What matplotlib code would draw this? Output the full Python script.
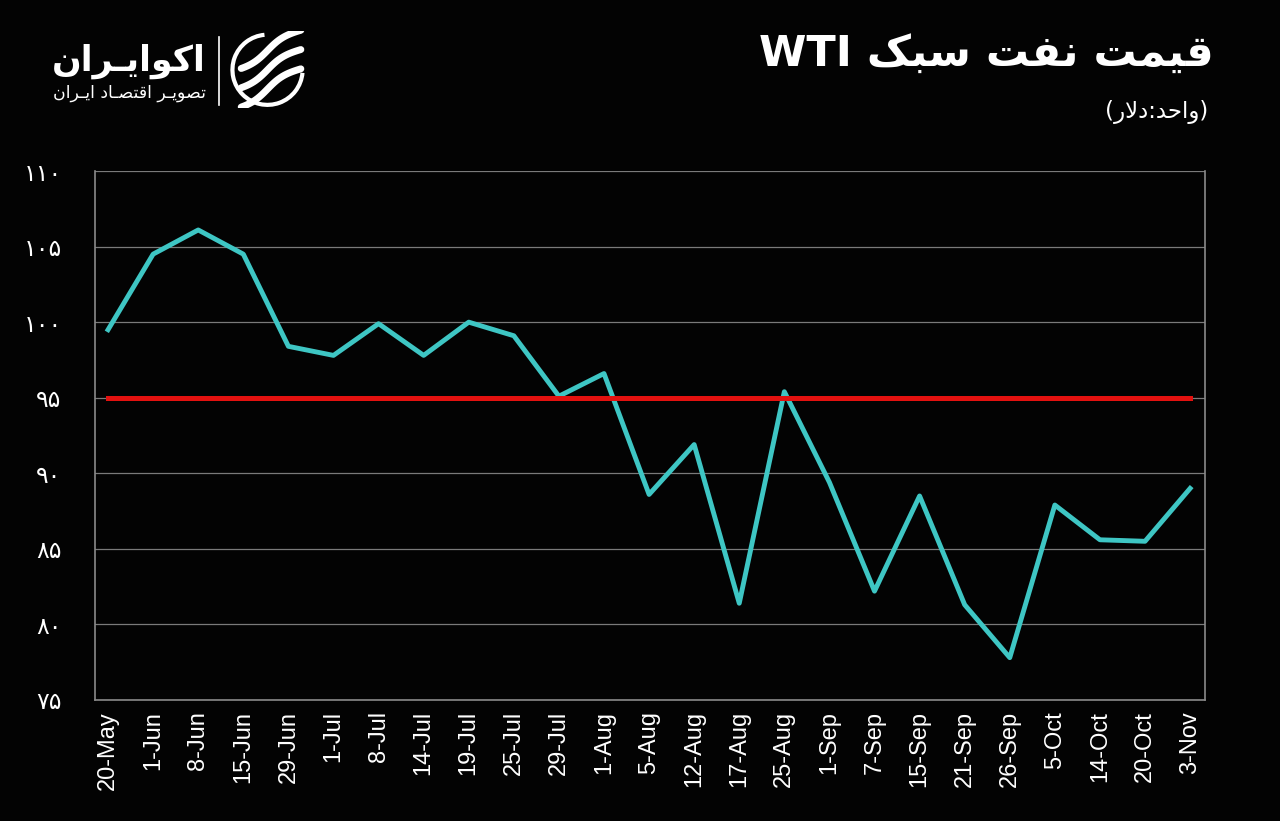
import matplotlib
matplotlib.use("Agg")
import matplotlib.pyplot as plt
from matplotlib.patches import Arc
import numpy as np

# data
dates = ["20-May", "1-Jun", "8-Jun", "15-Jun", "29-Jun", "1-Jul", "8-Jul", "14-Jul",
         "19-Jul", "25-Jul", "29-Jul", "1-Aug", "5-Aug", "12-Aug", "17-Aug", "25-Aug",
         "1-Sep", "7-Sep", "15-Sep", "21-Sep", "26-Sep", "5-Oct", "14-Oct", "20-Oct", "3-Nov"]
prices = [99.5, 104.5, 106.1, 104.5, 98.4, 97.8, 99.9, 97.8, 100.0, 99.1, 95.1, 96.6,
          88.6, 91.9, 81.4, 95.4, 89.4, 82.2, 88.5, 81.3, 77.8, 87.9, 85.6, 85.5, 89.0]
ref_level = 95
y_ticks = [75, 80, 85, 90, 95, 100, 105, 110]

# Persian shaping (presentation forms, visual order)
DUAL = {
    "ق": "\ufed5\ufed6\ufed7\ufed8", "ی": "\ufbfc\ufbfd\ufbfe\ufbff",
    "م": "\ufee1\ufee2\ufee3\ufee4", "ت": "\ufe95\ufe96\ufe97\ufe98",
    "ن": "\ufee5\ufee6\ufee7\ufee8", "ف": "\ufed1\ufed2\ufed3\ufed4",
    "س": "\ufeb1\ufeb2\ufeb3\ufeb4", "ب": "\ufe8f\ufe90\ufe91\ufe92",
    "ک": "\ufb8e\ufb8f\ufb90\ufb91", "ح": "\ufea1\ufea2\ufea3\ufea4",
    "ل": "\ufedd\ufede\ufedf\ufee0", "ص": "\ufeb9\ufeba\ufebb\ufebc",
    "ـ": "ــــ",
}
RIGHT = {"و": "\ufeed\ufeee", "ا": "\ufe8d\ufe8e", "د": "\ufea9\ufeaa", "ر": "\ufead\ufeae"}
MIRROR = {"(": ")", ")": "("}


def rtl(text):
    out = []
    i = 0
    n = len(text)
    while i < n:
        c = text[i]
        joins_prev = i > 0 and text[i - 1] in DUAL
        if c == "ل" and i + 1 < n and text[i + 1] == "ا":
            out.append("\ufefc" if joins_prev else "\ufefb")
            i += 2
            continue
        nxt = text[i + 1] if i + 1 < n else ""
        joins_next = c in DUAL and (nxt in DUAL or nxt in RIGHT)
        if c in DUAL:
            idx = 3 if (joins_prev and joins_next) else 1 if joins_prev else 2 if joins_next else 0
            out.append(DUAL[c][idx])
        elif c in RIGHT:
            out.append(RIGHT[c][1] if joins_prev else RIGHT[c][0])
        else:
            out.append(MIRROR.get(c, c))
        i += 1
    return "".join(reversed(out))


def fa_digits(v):
    return str(v).translate(str.maketrans("0123456789", "۰۱۲۳۴۵۶۷۸۹"))


bg = "#030303"
fig = plt.figure(figsize=(12.8, 8.21), dpi=100, facecolor=bg)
ax = fig.add_axes([0.0742, 0.1474, 0.8672, 0.6443])
ax.set_facecolor(bg)

x = np.arange(len(dates))
ax.plot(x, prices, color="#3ec6c4", lw=3.5, zorder=3)
ax.plot([x[0], x[-1]], [ref_level, ref_level], color="#e3110f", lw=3.6, zorder=4)

ax.set_ylim(75, 110)
ax.set_xlim(-0.29, len(dates) - 1 + 0.33)
ax.set_yticks(y_ticks)
ax.set_yticklabels([fa_digits(v) for v in y_ticks], family="DejaVu Sans",
                   fontsize=17, color="white")
ax.set_xticks(x)
ax.set_xticklabels(dates, rotation=90, family="Liberation Sans", fontsize=17,
                   color="white")
ax.tick_params(axis="y", length=0, pad=24)
ax.tick_params(axis="x", length=0, pad=8)
ax.grid(axis="y", color="#7a7a7a", lw=0.9)
ax.set_axisbelow(True)
for side in ["left", "right", "bottom"]:
    ax.spines[side].set_color("#8a8a8a")
    ax.spines[side].set_linewidth(1.2)
ax.spines["top"].set_visible(False)

# title block
fig.text(0.948, 0.935, "WTI " + rtl("قیمت نفت سبک"), ha="right", va="center",
         family="DejaVu Sans", fontweight="bold", fontsize=31, color="white")
fig.text(0.944, 0.863, rtl("(واحد:دلار)"), ha="right", va="center",
         family="DejaVu Sans", fontsize=16.5, color="white")

# logo
fig.text(0.161, 0.925, rtl("اکوایـران"), ha="right", va="center",
         family="DejaVu Sans", fontweight="bold", fontsize=25, color="white")
fig.text(0.161, 0.887, rtl("تصویـر اقتصـاد ایـران"), ha="right", va="center",
         family="DejaVu Sans", fontsize=12.5, color="white")
fig.add_artist(plt.Line2D([0.171, 0.171], [0.872, 0.955], color="white", lw=1.2))

icon = fig.add_axes([0.178, 0.868, 0.062, 0.094])
icon.set_xlim(-1.1, 1.1)
icon.set_ylim(-1.1, 1.1)
icon.set_aspect("equal")
icon.axis("off")
icon.add_patch(Arc((0, 0), 2.0, 2.0, theta1=95, theta2=355, color="white", lw=3))
for off in [0.55, 0.0, -0.55]:
    xs = np.linspace(-0.75, 0.95, 30)
    ys = off + 0.35 * np.tanh(2.2 * xs) + 0.25 * xs
    icon.plot(xs, ys, color="white", lw=5, solid_capstyle="round")

fig.savefig("out.png", dpi=100, facecolor=bg)
